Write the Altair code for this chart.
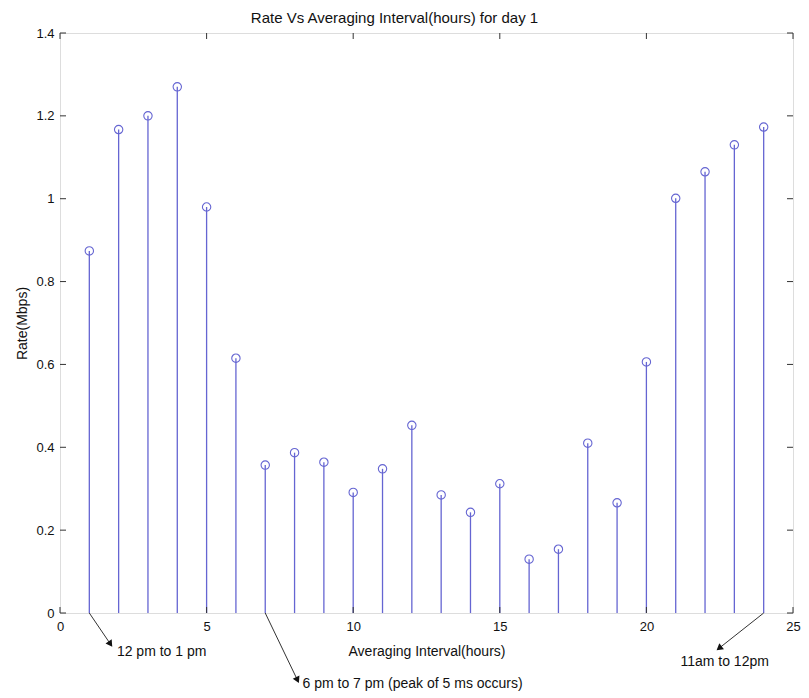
import math
import altair as alt
import pandas as pd

# ---- data ----
hours = list(range(1, 25))
rates = [0.874, 1.167, 1.200, 1.270, 0.980, 0.615, 0.357, 0.387, 0.364, 0.291,
         0.348, 0.453, 0.285, 0.243, 0.312, 0.130, 0.154, 0.410, 0.266, 0.606,
         1.001, 1.065, 1.130, 1.173]
x_ticks = [0, 5, 10, 15, 20, 25]
y_ticks = [0, 0.2, 0.4, 0.6, 0.8, 1.0, 1.2, 1.4]

ann_text = ["12 pm to 1 pm", "6 pm to 7 pm (peak of 5 ms occurs)", "11am to 12pm"]
ann_x0 = [1, 7, 24]          # arrow start (hour)
ann_y0 = [0, 0, 0]
ann_x1 = [1.72, 8.10, 22.48]  # arrow tip (data units)
ann_y1 = [-0.075, -0.162, -0.085]
ann_tx = [1.94, 8.27, 21.16]  # label left edge
ann_ty = [-0.093, -0.171, -0.118]

W, H = 733, 580
XMAX, YMAX = 25, 1.4
STEM = "#6565d2"
INK = "#333333"

df = pd.DataFrame({"hour": hours, "rate": rates})
ang = []
for a, b, c, d in zip(ann_x0, ann_y0, ann_x1, ann_y1):
    dxp = (c - a) * W / XMAX
    dys = -(d - b) * H / YMAX
    ang.append(math.degrees(math.atan2(dxp, -dys)) % 360)
ann = pd.DataFrame({"text": ann_text, "x0": ann_x0, "y0": ann_y0, "x1": ann_x1,
                    "y1": ann_y1, "tx": ann_tx, "ty": ann_ty, "ang": ang})
xt = pd.DataFrame({"v": x_ticks})
yt = pd.DataFrame({"v": y_ticks})

xs = alt.Scale(domain=[0, XMAX], nice=False, zero=False)
ys = alt.Scale(domain=[0, YMAX], nice=False)

x_axis = alt.Axis(values=x_ticks, title="Averaging Interval(hours)", grid=False,
                  ticks=False, domain=False, labelPadding=7, labelFontSize=13,
                  titleFontSize=14, titleFontWeight="normal", titleY=31,
                  labelColor="#111", titleColor="#111", labelFlush=False)
y_axis = alt.Axis(values=y_ticks, format="~g", title="Rate(Mbps)", grid=False,
                  ticks=False, domain=False, labelPadding=6, labelFontSize=13,
                  titleFontSize=14, titleFontWeight="normal", titleX=-38,
                  titleY=H / 2, titleBaseline="middle", titleAlign="center",
                  labelColor="#111", titleColor="#111")

base = alt.Chart(df)
stems = base.mark_rule(color=STEM, strokeWidth=1.3).encode(
    x=alt.X("hour:Q", scale=xs, axis=x_axis),
    y=alt.Y("rate:Q", scale=ys, axis=y_axis),
    y2=alt.datum(0),
)
pts = base.mark_point(shape="circle", filled=False, color=STEM, size=70,
                      strokeWidth=1.1, opacity=1).encode(
    x=alt.X("hour:Q", scale=xs), y=alt.Y("rate:Q", scale=ys))

tick_len = 6
yl = alt.Chart(yt).mark_rule(color=INK).encode(
    y=alt.Y("v:Q", scale=ys), x=alt.value(0), x2=alt.value(tick_len))
yr = alt.Chart(yt).mark_rule(color=INK).encode(
    y=alt.Y("v:Q", scale=ys), x=alt.value(W), x2=alt.value(W - tick_len))
xb = alt.Chart(xt).mark_rule(color=INK).encode(
    x=alt.X("v:Q", scale=xs), y=alt.value(H), y2=alt.value(H - tick_len))
xtp = alt.Chart(xt).mark_rule(color=INK).encode(
    x=alt.X("v:Q", scale=xs), y=alt.value(0), y2=alt.value(tick_len))

arrows = alt.Chart(ann).mark_rule(color=INK, strokeWidth=1).encode(
    x=alt.X("x0:Q", scale=xs), y=alt.Y("y0:Q", scale=ys),
    x2="x1:Q", y2="y1:Q")
heads = alt.Chart(ann).mark_point(shape="triangle-up", filled=True, color="#111",
                                  size=55, opacity=1).encode(
    x=alt.X("x1:Q", scale=xs), y=alt.Y("y1:Q", scale=ys),
    angle=alt.Angle("ang:Q", scale=None))
labels = alt.Chart(ann).mark_text(align="left", baseline="middle", fontSize=14,
                                  color="#111", font="Liberation Sans").encode(
    x=alt.X("tx:Q", scale=xs), y=alt.Y("ty:Q", scale=ys), text="text:N")

chart = alt.layer(stems, pts, yl, yr, xb, xtp, arrows, heads, labels).properties(
    width=W, height=H,
    title=alt.TitleParams("Rate Vs Averaging Interval(hours) for day 1",
                          fontSize=15, fontWeight="normal", color="#111",
                          anchor="middle", dx=-32, offset=1,
                          font="Liberation Sans"),
    autosize=alt.AutoSizeParams(type="none"),
    padding={"left": 52, "top": 25, "right": 8, "bottom": 80},
).configure_view(stroke=INK, strokeWidth=1).configure(
    font="Liberation Sans", background="white")

chart.save("out.html", embed_options={"renderer": "svg", "actions": False})
